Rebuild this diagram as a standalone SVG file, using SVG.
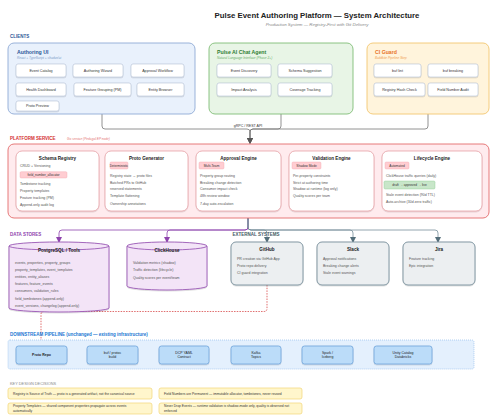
<svg xmlns="http://www.w3.org/2000/svg" width="500" height="418" viewBox="0 0 500 418">
<defs>
<filter id="sh" x="-10%" y="-10%" width="120%" height="130%"><feDropShadow dx="0" dy="0.6" stdDeviation="0.5" flood-color="#000" flood-opacity="0.22"/></filter>
<marker id="ag" markerWidth="6" markerHeight="6" refX="5" refY="3" orient="auto" markerUnits="userSpaceOnUse"><path d="M0,0 L6,3 L0,6 Z" fill="#555"/></marker>
<marker id="ap" markerWidth="6" markerHeight="6" refX="5" refY="3" orient="auto" markerUnits="userSpaceOnUse"><path d="M0,0 L6,3 L0,6 Z" fill="#8e44ad"/></marker>
<marker id="ax" markerWidth="6" markerHeight="6" refX="5" refY="3" orient="auto" markerUnits="userSpaceOnUse"><path d="M0,0 L6,3 L0,6 Z" fill="#546e7a"/></marker>
<marker id="ar" markerWidth="6" markerHeight="6" refX="5" refY="3" orient="auto" markerUnits="userSpaceOnUse"><path d="M0,0 L6,3 L0,6 Z" fill="#d32f2f"/></marker>
<marker id="ab" markerWidth="6" markerHeight="6" refX="5" refY="3" orient="auto" markerUnits="userSpaceOnUse"><path d="M0,0 L6,3 L0,6 Z" fill="#1565c0"/></marker>
</defs>
<style>
text{font-family:"Liberation Sans",Arial,sans-serif;}
.title{font-size:7.8px;font-weight:bold;fill:#222;text-anchor:middle;}
.subt{font-size:4.4px;font-style:italic;fill:#888;text-anchor:middle;}
.sec{font-size:4.5px;font-weight:bold;}
.bt{font-size:5.2px;font-weight:bold;}
.bs{font-size:3.2px;font-style:italic;}
.btn{fill:#fff;stroke:#b5c3d6;stroke-width:0.6;filter:url(#sh);}
.bx{font-size:3.7px;fill:#333;text-anchor:middle;}
.eng{fill:#fff;stroke:#e8a3a8;stroke-width:0.8;filter:url(#sh);}
.et{font-size:4.6px;font-weight:bold;fill:#222;text-anchor:middle;}
.it{font-size:3.5px;fill:#555;}
.pill{fill:#ffcdd2;stroke:#f3a6ad;stroke-width:0.4;}
.pt{font-size:3.2px;fill:#333;text-anchor:middle;}
.cyl{fill:#f3e4f7;stroke:#9b59b6;stroke-width:0.9;filter:url(#sh);}
.ext{fill:#eceff1;stroke:#78909c;stroke-width:0.9;filter:url(#sh);}
.pb{fill:#bbdcf9;stroke:#6fa3dc;stroke-width:0.8;filter:url(#sh);}
.pbt{font-size:3.5px;fill:#222;text-anchor:middle;}
.note{fill:#fff6cc;stroke:#f2d675;stroke-width:0.7;}
.nt{font-size:3.3px;fill:#333;}
.cg{fill:none;stroke:#777;stroke-width:0.8;}
</style>

<text class="title" x="317" y="17.8">Pulse Event Authoring Platform — System Architecture</text>
<text class="subt" x="317" y="25.5">Production System — Registry-First with Git Delivery</text>

<text class="sec" x="10" y="38" fill="#2b5797">CLIENTS</text>

<g id="connectors">
<path class="cg" d="M102,114 V126 Q102,129 105,129 H247 Q250,129 250,132 V143" marker-end="url(#ag)"/>
<path class="cg" d="M281,114 V126 Q281,129 278,129 H253 Q250,129 250,132 V143" marker-end="url(#ag)"/>
<path class="cg" d="M428,114 V126 Q428,129 425,129 H253 Q250,129 250,132 V143" marker-end="url(#ag)"/>
<path fill="none" stroke="#8e44ad" stroke-width="0.8" d="M248,218 V227 Q248,230 245,230 H62 Q59,230 59,233 V242" marker-end="url(#ap)"/>
<path fill="none" stroke="#8e44ad" stroke-width="0.8" d="M248,218 V227 Q248,230 245,230 H170 Q167,230 167,233 V242" marker-end="url(#ap)"/>
<path fill="none" stroke="#78909c" stroke-width="0.8" d="M248,218 V227 Q248,230 251,230 H264 Q267,230 267,233 V242" marker-end="url(#ax)"/>
<path fill="none" stroke="#78909c" stroke-width="0.8" d="M248,218 V227 Q248,230 251,230 H350 Q353,230 353,233 V242" marker-end="url(#ax)"/>
<path fill="none" stroke="#78909c" stroke-width="0.8" d="M248,218 V227 Q248,230 251,230 H435 Q438,230 438,233 V242" marker-end="url(#ax)"/>
<path fill="none" stroke="#d32f2f" stroke-width="0.7" stroke-dasharray="1.5,1.2" d="M267,285 V308.5 Q267,311.5 264,311.5 H44 Q41,311.5 41,314.5 V346" marker-end="url(#ar)"/>
<path fill="none" stroke="#1565c0" stroke-width="0.7" d="M67,355 H87" marker-end="url(#ab)"/>
<path fill="none" stroke="#1565c0" stroke-width="0.7" d="M138,355 H159" marker-end="url(#ab)"/>
<path fill="none" stroke="#1565c0" stroke-width="0.7" d="M209,355 H231" marker-end="url(#ab)"/>
<path fill="none" stroke="#1565c0" stroke-width="0.7" d="M281,355 H302" marker-end="url(#ab)"/>
<path fill="none" stroke="#1565c0" stroke-width="0.7" d="M353,355 H374" marker-end="url(#ab)"/>
<text x="248" y="127" font-size="3.6" fill="#333" text-anchor="middle">gRPC / REST API</text>
</g>

<g id="authoring-ui">
<rect x="8" y="43" width="187" height="71" rx="6" fill="#e9f1fc" stroke="#8eaad6" stroke-width="0.9"/>
<text class="bt" x="17" y="54" fill="#2b5797">Authoring UI</text>
<text class="bs" x="17" y="58.8" fill="#7b9cc9">React + TypeScript + shadcn/ui</text>
<rect class="btn" x="16" y="64" width="50" height="13" rx="2"/><text class="bx" x="41" y="72">Event Catalog</text>
<rect class="btn" x="73" y="64" width="50" height="13" rx="2"/><text class="bx" x="98" y="72">Authoring Wizard</text>
<rect class="btn" x="131" y="64" width="53" height="13" rx="2"/><text class="bx" x="157.5" y="72">Approval Workflow</text>
<rect class="btn" x="16" y="83" width="50" height="13" rx="2"/><text class="bx" x="41" y="91">Health Dashboard</text>
<rect class="btn" x="74" y="83" width="57" height="13" rx="2"/><text class="bx" x="102.5" y="91">Feature Grouping (PM)</text>
<rect class="btn" x="137" y="83" width="47" height="13" rx="2"/><text class="bx" x="160.5" y="91">Entity Browser</text>
<rect class="btn" x="16" y="101" width="43" height="10" rx="2"/><text class="bx" x="37.5" y="107.3">Proto Preview</text>
</g>

<g id="chat-agent">
<rect x="209" y="43" width="144" height="71" rx="6" fill="#e8f5e6" stroke="#80bd76" stroke-width="0.9"/>
<text class="bt" x="217" y="54" fill="#2e7d32">Pulse AI Chat Agent</text>
<text class="bs" x="217" y="58.8" fill="#6ab06a">Natural Language Interface (Phase 2+)</text>
<rect class="btn" x="217" y="64" width="54" height="13" rx="2"/><text class="bx" x="244" y="72">Event Discovery</text>
<rect class="btn" x="278" y="64" width="54" height="13" rx="2"/><text class="bx" x="305" y="72">Schema Suggestion</text>
<rect class="btn" x="217" y="83" width="54" height="13" rx="2"/><text class="bx" x="244" y="91">Impact Analysis</text>
<rect class="btn" x="278" y="83" width="54" height="13" rx="2"/><text class="bx" x="305" y="91">Coverage Tracking</text>
</g>

<g id="ci-guard">
<rect x="367" y="43" width="122" height="71" rx="6" fill="#fff4dc" stroke="#f3c66f" stroke-width="0.9"/>
<text class="bt" x="375" y="54" fill="#e8731c">CI Guard</text>
<text class="bs" x="375" y="58.8" fill="#f0a050">Buildkite Pipeline Step</text>
<rect class="btn" x="374" y="64" width="47" height="13" rx="2"/><text class="bx" x="397.5" y="72">buf lint</text>
<rect class="btn" x="428" y="64" width="50" height="13" rx="2"/><text class="bx" x="453" y="72">buf breaking</text>
<rect class="btn" x="374" y="83" width="51" height="13" rx="2"/><text class="bx" x="399.5" y="91">Registry Hash Check</text>
<rect class="btn" x="428" y="83" width="50" height="13" rx="2"/><text class="bx" x="453" y="91">Field Number Audit</text>
</g>

<text class="sec" x="10" y="139.7" fill="#d32f2f">PLATFORM SERVICE</text>
<text x="67" y="139.5" font-size="3.2" font-style="italic" fill="#e57373">Go service (Pedagal EP node)</text>

<g id="platform-service">
<rect x="8" y="144" width="481" height="74" rx="6" fill="#ffebee" stroke="#e36b6b" stroke-width="0.9"/>
</g>

<g id="schema-registry">
<rect class="eng" x="16" y="151" width="83" height="60" rx="6"/>
<text class="et" x="57.5" y="159.7">Schema Registry</text>
<text class="it" x="20" y="167">CRUD + Versioning</text>
<rect class="pill" x="20" y="171.7" width="47" height="6.3" rx="1.2"/><text class="pt" x="43.5" y="176">field_number_allocator</text>
<text class="it" x="20" y="185.3">Tombstone tracking</text>
<text class="it" x="20" y="191.6">Property templates</text>
<text class="it" x="20" y="198.6">Feature tracking (PM)</text>
<text class="it" x="20" y="205.6">Append-only audit log</text>
</g>

<g id="proto-generator">
<rect class="eng" x="105" y="151" width="83" height="60" rx="6"/>
<text class="et" x="146.5" y="159.7">Proto Generator</text>
<rect class="pill" x="110" y="162" width="18" height="7" rx="1.2"/><text class="pt" x="119" y="166.6">Deterministic</text>
<text class="it" x="110" y="176.6">Registry state → proto files</text>
<text class="it" x="110" y="183.6">Batched PRs to GitHub</text>
<text class="it" x="110" y="190.3">reserved statements</text>
<text class="it" x="110" y="197.3">Template flattening</text>
<text class="it" x="110" y="205.3">Ownership annotations</text>
</g>

<g id="approval-engine">
<rect class="eng" x="196" y="151" width="85" height="60" rx="6"/>
<text class="et" x="238.5" y="159.7">Approval Engine</text>
<rect class="pill" x="199" y="162" width="25" height="7" rx="1.2"/><text class="pt" x="211.5" y="166.6">Multi-Team</text>
<text class="it" x="200" y="176.6">Property group routing</text>
<text class="it" x="200" y="183.6">Breaking change detection</text>
<text class="it" x="200" y="190.3">Consumer impact check</text>
<text class="it" x="200" y="197.3">48h review window</text>
<text class="it" x="200" y="205.3">7-day auto-escalation</text>
</g>

<g id="validation-engine">
<rect class="eng" x="289" y="151" width="85" height="60" rx="6"/>
<text class="et" x="331.5" y="159.7">Validation Engine</text>
<rect class="pill" x="292" y="162" width="29" height="7" rx="1.2"/><text class="pt" x="306.5" y="166.6">Shadow Mode</text>
<text class="it" x="293" y="176.6">Per-property constraints</text>
<text class="it" x="293" y="183.6">Strict at authoring time</text>
<text class="it" x="293" y="190.3">Shadow at runtime (log only)</text>
<text class="it" x="293" y="197.3">Quality scores per team</text>
</g>

<g id="lifecycle-engine">
<rect class="eng" x="382" y="151" width="100" height="60" rx="6"/>
<text class="et" x="432" y="159.7">Lifecycle Engine</text>
<rect class="pill" x="385" y="162" width="24" height="7" rx="1.2"/><text class="pt" x="397" y="166.6">Automated</text>
<text class="it" x="386" y="176.6">ClickHouse traffic queries (daily)</text>
<rect x="384" y="181" width="51" height="8" rx="1.2" fill="#c8e6c9" stroke="#8cc98f" stroke-width="0.4"/><text class="pt" x="409.5" y="186.1">draft → approved → live</text>
<text class="it" x="386" y="196.3">Stale event detection (90d TTL)</text>
<text class="it" x="386" y="203.3">Auto-archive (30d zero traffic)</text>
</g>

<text class="sec" x="10" y="236" fill="#8e44ad">DATA STORES</text>
<text class="sec" x="256" y="236" fill="#455a64" text-anchor="middle">EXTERNAL SYSTEMS</text>

<g id="postgresql">
<path class="cyl" d="M9,246 A50,4 0 0 1 109,246 V308 A50,4 0 0 1 9,308 Z"/>
<path d="M9,246 A50,4 0 0 0 109,246" fill="none" stroke="#9b59b6" stroke-width="0.9"/>
<text class="et" x="59" y="252">PostgreSQL / Tools</text>
<text class="it" x="15" y="263.6">events, properties, property_groups</text>
<text class="it" x="15" y="271">property_templates, event_templates</text>
<text class="it" x="15" y="278">entities, entity_aliases</text>
<text class="it" x="15" y="285.3">features, feature_events</text>
<text class="it" x="15" y="292.3">consumers, validation_rules</text>
<text class="it" x="15" y="299.6" fill="#333">field_tombstones (append-only)</text>
<text class="it" x="15" y="307" fill="#333">event_versions, changelog (append-only)</text>
</g>

<g id="clickhouse">
<path class="cyl" d="M127,246 A40,4 0 0 1 207,246 V286 A40,4 0 0 1 127,286 Z"/>
<path d="M127,246 A40,4 0 0 0 207,246" fill="none" stroke="#9b59b6" stroke-width="0.9"/>
<text class="et" x="167" y="252">ClickHouse</text>
<text class="it" x="133" y="264">Validation metrics (shadow)</text>
<text class="it" x="133" y="271.3">Traffic detection (lifecycle)</text>
<text class="it" x="133" y="278.6">Quality scores per event/team</text>
</g>

<g id="github">
<rect class="ext" x="231" y="242" width="72" height="43" rx="5"/>
<text class="et" x="267" y="250.6">GitHub</text>
<text class="it" x="237" y="260">PR creation via GitHub App</text>
<text class="it" x="237" y="267.3">Proto repo delivery</text>
<text class="it" x="237" y="274.3">CI guard integration</text>
</g>

<g id="slack">
<rect class="ext" x="317" y="242" width="72" height="43" rx="5"/>
<text class="et" x="353" y="250.6">Slack</text>
<text class="it" x="323" y="260">Approval notifications</text>
<text class="it" x="323" y="267.3">Breaking change alerts</text>
<text class="it" x="323" y="274.3">Stale event warnings</text>
</g>

<g id="jira">
<rect class="ext" x="403" y="242" width="72" height="43" rx="5"/>
<text class="et" x="439" y="250.6">Jira</text>
<text class="it" x="409" y="260">Feature tracking</text>
<text class="it" x="409" y="267.3">Epic integration</text>
</g>

<text class="sec" x="10" y="336" fill="#1976d2">DOWNSTREAM PIPELINE (unchanged — existing infrastructure)</text>

<g id="pipeline">
<rect x="8" y="340" width="466" height="29" rx="2" fill="#e4f0fd" stroke="#92bdec" stroke-width="0.7" stroke-dasharray="1,1"/>
</g>
<g id="proto-repo"><rect class="pb" x="16" y="346" width="51" height="18" rx="2.5"/><text class="pbt" x="41.5" y="356.3" font-weight="bold">Proto Repo</text></g>
<g id="buf-protoc"><rect class="pb" x="87" y="346" width="51" height="18" rx="2.5"/><text class="pbt" x="112.5" y="353.8">buf / protoc</text><text class="pbt" x="112.5" y="358.3">build</text></g>
<g id="dcp-yaml"><rect class="pb" x="159" y="346" width="50" height="18" rx="2.5"/><text class="pbt" x="184" y="353.8">DCP YAML</text><text class="pbt" x="184" y="358.3">Contract</text></g>
<g id="kafka"><rect class="pb" x="231" y="346" width="50" height="18" rx="2.5"/><text class="pbt" x="256" y="353.8">Kafka</text><text class="pbt" x="256" y="358.3">Topics</text></g>
<g id="spark"><rect class="pb" x="302" y="346" width="51" height="18" rx="2.5"/><text class="pbt" x="327.5" y="353.8">Spark /</text><text class="pbt" x="327.5" y="358.3">Iceberg</text></g>
<g id="unity"><rect class="pb" x="374" y="346" width="58" height="18" rx="2.5"/><text class="pbt" x="403" y="353.8">Unity Catalog</text><text class="pbt" x="403" y="358.3">Databricks</text></g>

<text x="10" y="384.8" font-size="3.9" fill="#888">KEY DESIGN DECISIONS</text>

<g id="decisions">
<rect class="note" x="8" y="388" width="144" height="11" rx="2"/>
<text class="nt" x="13" y="395.2">Registry is Source of Truth — proto is a generated artifact, not the canonical source</text>
<rect class="note" x="8" y="403" width="144" height="11" rx="2"/>
<text class="nt" x="13" y="406.9">Property Templates — shared component properties propagate across events</text>
<text class="nt" x="13" y="411.5">automatically</text>
<rect class="note" x="159" y="388" width="143" height="11" rx="2"/>
<text class="nt" x="164" y="395.2">Field Numbers are Permanent — immutable allocator, tombstones, never reused</text>
<rect class="note" x="159" y="403" width="143" height="11" rx="2"/>
<text class="nt" x="164" y="406.9">Never Drop Events — runtime validation is shadow-mode only, quality is observed not</text>
<text class="nt" x="164" y="411.5">enforced</text>
</g>
</svg>
